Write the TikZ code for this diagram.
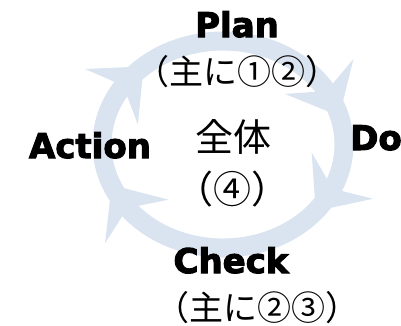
\documentclass[tikz,border=0pt]{standalone}
\usepackage{fontspec}
\usetikzlibrary{arrows.meta,bending}
\newfontfamily\jpfont{Noto Sans CJK JP}
\newfontfamily\heavyfont[BoldFeatures={FakeBold=3}]{DejaVu Sans}
\definecolor{ringblue}{HTML}{DAE3F0}

\begin{document}
\begin{tikzpicture}[x=1pt,y=1pt,
  cycle/.style={ringblue,line width=19pt,-{Stealth[length=44pt,width=76pt,inset=16pt,flex]}},
  phase/.style={inner sep=0pt,font=\heavyfont\bfseries\fontsize{34}{34}\selectfont},
  note/.style={inner sep=0pt,font=\jpfont\fontsize{34}{34}\selectfont},
  centre/.style={inner sep=0pt,font=\jpfont\fontsize{38}{38}\selectfont}]
\useasboundingbox (0,0) rectangle (401,325);
% ring of four arrows, clockwise
\foreach \a/\b in {146/16, 30/-40, -26/-157, 217/131}
  \draw[cycle] ([shift={(\a:121 and 103.5)}]223,180.5) arc[start angle=\a,end angle=\b,x radius=121,y radius=103.5];
% phases
\node[phase,anchor=base] (plan) at (237,288) {Plan};
\node[note] (plannote) at (237,253) {（主に①②）};
\node[phase,anchor=base west] (do) at (350,175) {Do};
\node[phase,anchor=base] (check) at (231,52) {Check};
\node[note] (checknote) at (257,17) {（主に②③）};
\node[phase,anchor=base] (act) at (90,167) {Action};
% centre
\node[centre] (all) at (233,188) {全体};
\node[centre] (allnote) at (232,136) {（④）};
\end{tikzpicture}
\end{document}
